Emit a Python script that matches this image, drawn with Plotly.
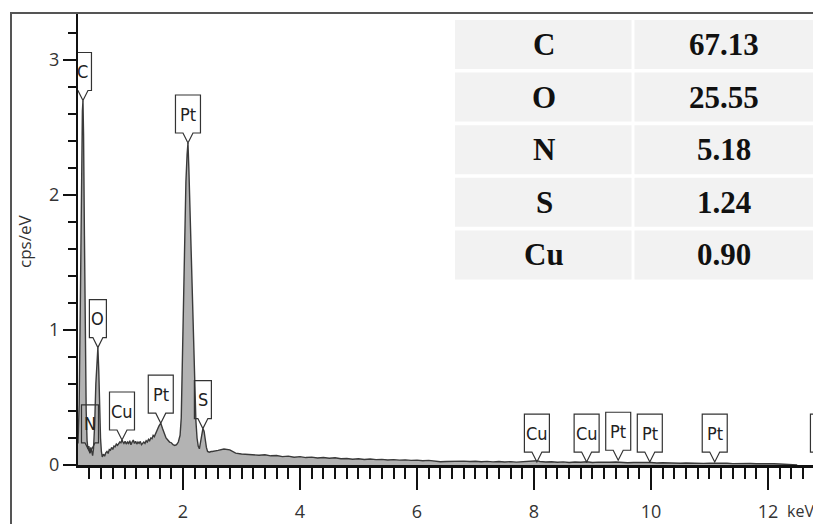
import plotly.graph_objects as go

# ---------------- data ----------------
energy_kev = [
    0.205, 0.225, 0.245, 0.262, 0.28, 0.29, 0.30, 0.315, 0.33, 0.345, 0.36, 0.375, 0.39, 0.41,
    0.425, 0.44, 0.455, 0.47, 0.49, 0.51, 0.53, 0.545, 0.56, 0.575, 0.59, 0.605, 0.62, 0.64,
    0.66, 0.68, 0.70, 0.72, 0.74, 0.76, 0.78, 0.80, 0.82, 0.84, 0.86, 0.88, 0.90, 0.92, 0.94,
    0.957, 0.975, 0.99, 1.01, 1.03, 1.05, 1.07, 1.09, 1.11, 1.13, 1.15, 1.17, 1.19, 1.21, 1.23,
    1.25, 1.27, 1.29, 1.31, 1.33, 1.35, 1.37, 1.39, 1.41, 1.43, 1.45, 1.47, 1.49, 1.51, 1.53,
    1.55, 1.57, 1.59, 1.62, 1.65, 1.68, 1.71, 1.74, 1.77, 1.80, 1.83, 1.86, 1.89, 1.92, 1.95,
    1.97, 1.99, 2.01, 2.03, 2.05, 2.07, 2.085, 2.10, 2.12, 2.14, 2.16, 2.18, 2.20, 2.22, 2.24,
    2.26, 2.28, 2.30, 2.32, 2.34, 2.36, 2.38, 2.40, 2.42, 2.45, 2.48,
    2.5, 2.6, 2.7, 2.8, 2.9, 3.0, 3.1, 3.2, 3.3, 3.4, 3.5, 3.6, 3.7, 3.8, 3.9, 4.0, 4.1, 4.2,
    4.3, 4.4, 4.5, 4.6, 4.7, 4.8, 4.9, 5.0, 5.1, 5.2, 5.3, 5.4, 5.5, 5.6, 5.7, 5.8, 5.9, 6.0,
    6.1, 6.2, 6.3, 6.4, 6.5, 6.6, 6.7, 6.8, 6.9, 7.0, 7.1, 7.2, 7.3, 7.4, 7.5, 7.6, 7.7, 7.8,
    7.9, 8.0, 8.05, 8.1, 8.2, 8.3, 8.4, 8.5, 8.6, 8.7, 8.8, 8.9, 9.0, 9.1, 9.2, 9.3, 9.4, 9.5,
    9.6, 9.7, 9.8, 9.9, 10.0, 10.1, 10.2, 10.3, 10.4, 10.5, 10.6, 10.7, 10.8, 10.9, 11.0, 11.1,
    11.2, 11.3, 11.4, 11.5, 11.6, 11.7, 11.8, 11.9, 12.0, 12.1, 12.2, 12.3, 12.4, 12.5,
]
counts_cps = [
    0.16, 0.45, 1.2, 2.1, 2.62, 2.70, 2.45, 1.7, 0.9, 0.4, 0.18, 0.12, 0.14, 0.09,
    0.13, 0.08, 0.07, 0.12, 0.3, 0.6, 0.82, 0.87, 0.7, 0.42, 0.2, 0.1, 0.06, 0.08,
    0.065, 0.09, 0.1, 0.085, 0.115, 0.11, 0.13, 0.115, 0.14, 0.135, 0.155, 0.145, 0.16, 0.17, 0.165,
    0.185, 0.17, 0.16, 0.175, 0.155, 0.17, 0.16, 0.18, 0.15, 0.17, 0.185, 0.16, 0.175, 0.155, 0.17,
    0.16, 0.175, 0.15, 0.165, 0.17, 0.16, 0.18, 0.17, 0.19, 0.18, 0.2, 0.195, 0.22, 0.21, 0.235,
    0.25, 0.27, 0.29, 0.31, 0.27, 0.23, 0.2, 0.185, 0.17, 0.165, 0.15, 0.145, 0.15, 0.17, 0.22,
    0.35, 0.8, 1.3, 1.75, 2.1, 2.3, 2.385, 2.2, 1.9, 1.55, 1.2, 0.85, 0.55, 0.33, 0.2,
    0.14, 0.12, 0.17, 0.24, 0.27, 0.25, 0.18, 0.13, 0.1, 0.095, 0.1,
    0.100, 0.108, 0.118, 0.112, 0.088, 0.082, 0.078, 0.075, 0.072, 0.076, 0.068, 0.070, 0.062, 0.066, 0.058, 0.062, 0.055, 0.058,
    0.052, 0.055, 0.050, 0.054, 0.046, 0.048, 0.043, 0.046, 0.041, 0.044, 0.040, 0.042, 0.037, 0.040, 0.036, 0.038, 0.034, 0.036,
    0.032, 0.034, 0.030, 0.024, 0.026, 0.028, 0.025, 0.029, 0.026, 0.028, 0.024, 0.027, 0.023, 0.026, 0.022, 0.025, 0.021, 0.024,
    0.023, 0.030, 0.032, 0.026, 0.022, 0.024, 0.020, 0.023, 0.019, 0.022, 0.020, 0.024, 0.019, 0.021, 0.018, 0.020, 0.022, 0.019,
    0.017, 0.019, 0.016, 0.018, 0.019, 0.015, 0.017, 0.014, 0.016, 0.013, 0.015, 0.013, 0.014, 0.012, 0.013, 0.014,
    0.011, 0.013, 0.010, 0.012, 0.010, 0.011, 0.009, 0.010, 0.008, 0.009, 0.007, 0.006, 0.004, 0.0,
]

peak_labels = ["C", "N", "O", "Cu", "Pt", "Pt", "S", "Cu", "Cu", "Pt", "Pt", "Pt", "Pt"]
peak_energy = [0.29, 0.41, 0.545, 0.957, 1.62, 2.085, 2.34, 8.05, 8.9, 9.44, 9.98, 11.09, 12.94]
peak_height = [2.70, 0.09, 0.87, 0.185, 0.31, 2.385, 0.27, 0.022, 0.022, 0.035, 0.022, 0.022, 0.022]

table_elements = ["C", "O", "N", "S", "Cu"]
table_wt = ["67.13", "25.55", "5.18", "1.24", "0.90"]

y_title = "cps/eV"
x_unit = "keV"

# ---------------- layout geometry ----------------
W, H = 813, 524
ML, MR, MT, MB = 78, 0, 13, 59
X_RANGE = [0.205, 12.77]
Y_RANGE = [0.0, 3.348]
PW, PH = W - ML - MR, H - MT - MB
KEV_PER_PX = (X_RANGE[1] - X_RANGE[0]) / PW
VAL_PER_PX = (Y_RANGE[1] - Y_RANGE[0]) / PH


def pxx(p):
    return (p - ML) / PW


def pxy(p):
    return (H - MB - p) / PH


fig = go.Figure()
fig.add_trace(go.Scatter(
    x=energy_kev, y=counts_cps, mode="lines", fill="tozeroy",
    fillcolor="#b3b3b3", line=dict(color="#3a3a3a", width=1.4),
    hoverinfo="skip", showlegend=False,
))

shapes = []
annotations = []

# outer frame (left and top edges)
shapes.append(dict(type="path", xref="paper", yref="paper",
                   path=f"M {pxx(11)},{pxy(540)} L {pxx(11)},{pxy(13)} L {pxx(830)},{pxy(13)}",
                   line=dict(color="#555555", width=2)))

# peak tags
BODY, POINT, VHALF = 38, 10, 5
tag_font = dict(family="Liberation Sans Narrow, DejaVu Sans Condensed, Arial Narrow, sans-serif",
                size=18, color="#222222")
for lab, ex, hy in zip(peak_labels, peak_energy, peak_height):
    hw = 8.5 if len(lab) == 1 else 12.5
    w = hw * KEV_PER_PX
    v = min(VHALF, hw) * KEV_PER_PX
    yb = hy + POINT * VAL_PER_PX
    yt = hy + (POINT + BODY) * VAL_PER_PX
    path = (f"M {ex - w},{yt} L {ex + w},{yt} L {ex + w},{yb} L {ex + v},{yb} "
            f"L {ex},{hy} L {ex - v},{yb} L {ex - w},{yb} Z")
    shapes.append(dict(type="path", xref="x", yref="y", path=path,
                       line=dict(color="#333333", width=1.2), fillcolor="rgba(0,0,0,0)"))
    annotations.append(dict(x=ex, y=hy + (POINT + BODY / 2) * VAL_PER_PX, xref="x", yref="y",
                            text=lab, showarrow=False, font=tag_font,
                            xanchor="center", yanchor="middle"))

# composition table
T_LEFT, T_DIV, T_RIGHT = 455, 633, 813
ROW_TOP, ROW_PITCH, ROW_H, GAP = 20, 52.6, 49, 3
tfont = dict(family="Liberation Serif, Times New Roman, serif", size=31, color="#111111")
for i, (el, val) in enumerate(zip(table_elements, table_wt)):
    y0 = ROW_TOP + i * ROW_PITCH
    y1 = y0 + ROW_H
    for (a, b), txt in (((T_LEFT, T_DIV - GAP / 2), el), ((T_DIV + GAP / 2, T_RIGHT + 5), val)):
        shapes.append(dict(type="rect", xref="paper", yref="paper", layer="above",
                           x0=pxx(a), x1=pxx(b), y0=pxy(y1), y1=pxy(y0),
                           fillcolor="#f2f2f2", line=dict(width=0)))
    annotations.append(dict(x=pxx((T_LEFT + T_DIV) / 2), y=pxy((y0 + y1) / 2), xref="paper", yref="paper",
                            text=f"<b>{el}</b>", showarrow=False, font=tfont,
                            xanchor="center", yanchor="middle"))
    annotations.append(dict(x=pxx((T_DIV + T_RIGHT) / 2 + 1), y=pxy((y0 + y1) / 2), xref="paper", yref="paper",
                            text=f"<b>{val}</b>", showarrow=False, font=tfont,
                            xanchor="center", yanchor="middle"))

tick_font = dict(family="Open Sans, DejaVu Sans, sans-serif", size=18, color="#333333")
annotations.append(dict(x=pxx(800), y=pxy(511), xref="paper", yref="paper", text=x_unit,
                        showarrow=False, font=dict(family="Open Sans, DejaVu Sans, sans-serif",
                                                   size=16, color="#333333"),
                        xanchor="center", yanchor="middle"))
annotations.append(dict(x=pxx(25), y=pxy(242), xref="paper", yref="paper", text=y_title,
                        showarrow=False, textangle=-90,
                        font=dict(family="Open Sans, DejaVu Sans, sans-serif", size=17, color="#333333"),
                        xanchor="center", yanchor="middle"))

fig.update_layout(
    width=W, height=H, margin=dict(l=ML, r=MR, t=MT, b=MB, pad=0),
    paper_bgcolor="white", plot_bgcolor="white", showlegend=False,
    shapes=shapes, annotations=annotations,
    xaxis=dict(range=X_RANGE, showgrid=False, zeroline=False, showline=True,
               linecolor="#111111", linewidth=3, ticks="outside", ticklen=22, tickwidth=2,
               tickcolor="#111111", tickmode="linear", tick0=0, dtick=2,
               tickfont=tick_font, ticklabelstandoff=6,
               minor=dict(ticks="outside", ticklen=11, tickwidth=2, tickcolor="#111111",
                          tickmode="linear", tick0=0, dtick=0.2, showgrid=False)),
    yaxis=dict(range=Y_RANGE, showgrid=False, zeroline=False, showline=True,
               linecolor="#111111", linewidth=2, ticks="outside", ticklen=13, tickwidth=2,
               tickcolor="#111111", tickmode="linear", tick0=0, dtick=1,
               tickfont=tick_font,
               minor=dict(ticks="outside", ticklen=8, tickwidth=2, tickcolor="#111111",
                          tickmode="linear", tick0=0, dtick=0.2, showgrid=False)),
)

fig.write_html("out.html", config={"displayModeBar": False},
               post_script="document.body.style.margin='0';document.body.style.overflow='hidden';")
